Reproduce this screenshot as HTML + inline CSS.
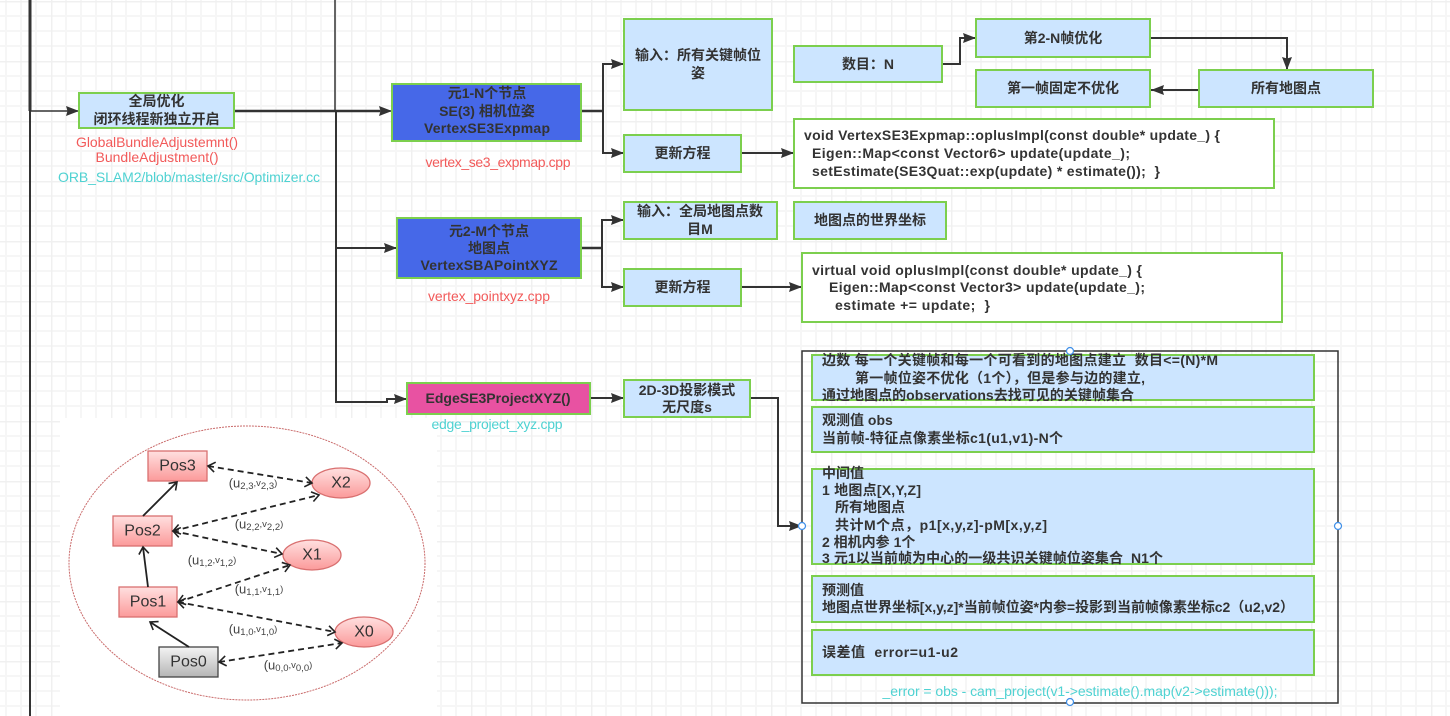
<!DOCTYPE html>
<html><head><meta charset="utf-8"><style>
html,body{margin:0;padding:0;background:#fff}
svg{display:block;filter:blur(0.3px)}
text{font-family:"Liberation Sans","Noto Sans CJK SC",sans-serif;font-size:14px;font-weight:700;fill:#333;dominant-baseline:central}
.c{text-anchor:middle}
.r{font-weight:400;fill:#f25a5a}
.t{font-weight:400;fill:#4fd2d2}
.b{fill:#cce5ff;stroke:#7ccf4e;stroke-width:2}
.w{fill:#fff;stroke:#7ccf4e;stroke-width:2}
.l{fill:none;stroke:#333;stroke-width:2}
.a{marker-end:url(#ar)}
.h{fill:#fff;stroke:#3f8fe8;stroke-width:1.2}
.p text{font-weight:400;font-size:16px;fill:#333}
.p .s{font-size:13px;fill:#444}
.p .s tspan{font-size:9.5px}
.d{fill:none;stroke:#222;stroke-width:1.8;stroke-dasharray:6 4;marker-start:url(#op2);marker-end:url(#op)}
.k{fill:none;stroke:#222;stroke-width:1.8;marker-end:url(#op)}
</style></head><body>
<svg xmlns="http://www.w3.org/2000/svg" width="1450" height="716" viewBox="0 0 1450 716">
<defs>
<pattern id="g" width="60" height="60" patternUnits="userSpaceOnUse" x="51" y="1">
<path d="M15 0V60M30 0V60M45 0V60M0 15H60M0 30H60M0 45H60" stroke="#f6f6f6" stroke-width="2" fill="none"/>
<path d="M0 0V60M0 0H60" stroke="#f0f0f0" stroke-width="3" fill="none"/>
</pattern>
<marker id="ar" markerUnits="userSpaceOnUse" markerWidth="14" markerHeight="10" refX="13" refY="5" orient="auto"><path d="M0 0L13 5L0 10L1.500 5Z" fill="#333"/></marker>
<marker id="op" markerUnits="userSpaceOnUse" markerWidth="12" markerHeight="12" refX="9" refY="6" orient="auto"><path d="M2 1L9 6L2 11" fill="none" stroke="#222" stroke-width="1.6"/></marker>
<marker id="op2" markerUnits="userSpaceOnUse" markerWidth="12" markerHeight="12" refX="3" refY="6" orient="auto"><path d="M10 1L3 6L10 11" fill="none" stroke="#222" stroke-width="1.6"/></marker>
<linearGradient id="pk" x1="0" y1="0" x2="0" y2="1"><stop offset="0" stop-color="#ffe0e0"/><stop offset="1" stop-color="#fb9a9a"/></linearGradient>
<linearGradient id="gy" x1="0" y1="0" x2="0" y2="1"><stop offset="0" stop-color="#f4f4f4"/><stop offset="1" stop-color="#b5b5b5"/></linearGradient>
</defs>
<rect width="1450" height="716" fill="#fff"/>
<rect width="1450" height="716" fill="url(#g)"/>

<!-- factor graph picture -->
<rect x="60" y="418" width="377" height="298" fill="#fff"/>
<g class="p">
<ellipse cx="247" cy="563" rx="178" ry="137" fill="none" stroke="#c96a6a" stroke-width="1" stroke-dasharray="2 1"/>
<rect x="148" y="451" width="59" height="30" fill="url(#pk)" stroke="#d97070" stroke-width="1.3"/>
<text class="c" x="177.500" y="466">Pos3</text>
<rect x="113" y="516" width="59" height="30" fill="url(#pk)" stroke="#d97070" stroke-width="1.3"/>
<text class="c" x="142.500" y="531">Pos2</text>
<rect x="119" y="587" width="58" height="30" fill="url(#pk)" stroke="#d97070" stroke-width="1.3"/>
<text class="c" x="148" y="602">Pos1</text>
<rect x="159" y="647" width="59" height="30" fill="url(#gy)" stroke="#444" stroke-width="1.3"/>
<text class="c" x="188.500" y="662">Pos0</text>
<ellipse cx="341" cy="483" rx="29" ry="15" fill="url(#pk)" stroke="#d97070" stroke-width="1.3"/>
<text class="c" x="341" y="483">X2</text>
<ellipse cx="312" cy="555" rx="29" ry="15" fill="url(#pk)" stroke="#d97070" stroke-width="1.3"/>
<text class="c" x="312" y="555">X1</text>
<ellipse cx="364" cy="632" rx="29" ry="15" fill="url(#pk)" stroke="#d97070" stroke-width="1.3"/>
<text class="c" x="364" y="632">X0</text>
<path class="k" d="M189 647L150 622"/>
<path class="k" d="M148 587L143 547"/>
<path class="k" d="M143 516L177 482"/>
<path class="d" d="M208 466L312 483"/>
<path class="d" d="M173 531L319 495"/>
<path class="d" d="M173 531L282 554"/>
<path class="d" d="M178 602L290 565"/>
<path class="d" d="M178 602L335 632"/>
<path class="d" d="M219 662L342 643"/>
<text class="c s" x="253" y="483">(u<tspan dy="3">2,3</tspan><tspan dy="-3">,v</tspan><tspan dy="3">2,3</tspan><tspan dy="-3">)</tspan></text>
<text class="c s" x="259" y="524">(u<tspan dy="3">2,2</tspan><tspan dy="-3">,v</tspan><tspan dy="3">2,2</tspan><tspan dy="-3">)</tspan></text>
<text class="c s" x="212" y="560">(u<tspan dy="3">1,2</tspan><tspan dy="-3">,v</tspan><tspan dy="3">1,2</tspan><tspan dy="-3">)</tspan></text>
<text class="c s" x="259" y="589">(u<tspan dy="3">1,1</tspan><tspan dy="-3">,v</tspan><tspan dy="3">1,1</tspan><tspan dy="-3">)</tspan></text>
<text class="c s" x="253" y="629">(u<tspan dy="3">1,0</tspan><tspan dy="-3">,v</tspan><tspan dy="3">1,0</tspan><tspan dy="-3">)</tspan></text>
<text class="c s" x="288" y="665">(u<tspan dy="3">0,0</tspan><tspan dy="-3">,v</tspan><tspan dy="3">0,0</tspan><tspan dy="-3">)</tspan></text>
</g>

<!-- connectors -->
<path class="l" d="M30 0V716" />
<path d="M30 0V111" stroke="#333" stroke-width="3" fill="none"/>
<path class="l a" d="M30 111H79" style="stroke-width:1.5"/>
<path d="M234 111H380" stroke="#333" stroke-width="2.5" fill="none"/>
<path class="l a" d="M336 111H392" style="stroke-width:1.5"/>
<path class="l" d="M335 0V111" style="stroke-width:1.5"/>
<path class="l" d="M336 111V402H387V399H395"/>
<path class="l a" d="M336 248H397"/>
<path class="l a" d="M395 399H407"/>
<path class="l" d="M581 111H603" style="stroke-width:2.5"/>
<path class="l a" d="M603 111V64H624"/>
<path class="l a" d="M603 111V153H624"/>
<path class="l" d="M581 248H602" style="stroke-width:2.5"/>
<path class="l a" d="M602 248V220H624"/>
<path class="l a" d="M602 248V287H624"/>
<path class="l a" d="M590 398H624"/>
<path class="l a" d="M750 398H778V526H802"/>
<path class="l a" d="M741 153H794"/>
<path class="l a" d="M741 287H802"/>
<path class="l a" d="M942 64H960V38H976"/>
<path class="l a" d="M1150 38H1287V70"/>
<path class="l a" d="M1199 90H1151"/>

<!-- top-level nodes -->
<rect class="b" x="79" y="93" width="155" height="35"/>
<text class="c" x="156.500" y="101">全局优化</text>
<text class="c" x="156.500" y="119">闭环线程新独立开启</text>
<text class="c r" x="157" y="142" textLength="162">GlobalBundleAdjustemnt()</text>
<text class="c r" x="157" y="157" textLength="123">BundleAdjustment()</text>
<text class="c t" x="189" y="177" textLength="262">ORB_SLAM2/blob/master/src/Optimizer.cc</text>

<rect x="392" y="84" width="189" height="57" fill="#4668e8" stroke="#7ccf4e" stroke-width="2"/>
<text class="c" x="487" y="93">元1-N个节点</text>
<text class="c" x="487" y="111">SE(3) 相机位姿</text>
<text class="c" x="487" y="128" textLength="126">VertexSE3Expmap</text>
<text class="c r" x="498" y="162" textLength="145">vertex_se3_expmap.cpp</text>

<rect class="b" x="624" y="19" width="148" height="91"/>
<text class="c" x="698" y="55">输入：所有关键帧位</text>
<text class="c" x="698" y="73">姿</text>
<rect class="b" x="794" y="46" width="148" height="36"/>
<text class="c" x="868" y="64">数目：N</text>
<rect class="b" x="976" y="19" width="174" height="38"/>
<text class="c" x="1063" y="38">第2-N帧优化</text>
<rect class="b" x="976" y="70" width="174" height="37"/>
<text class="c" x="1063" y="88">第一帧固定不优化</text>
<rect class="b" x="1199" y="70" width="174" height="37"/>
<text class="c" x="1286" y="88">所有地图点</text>

<rect class="b" x="624" y="135" width="117" height="37"/>
<text class="c" x="682.500" y="153">更新方程</text>
<rect class="w" x="794" y="119" width="480" height="69"/>
<text x="804" y="135" textLength="416">void VertexSE3Expmap::oplusImpl(const double* update_) {</text>
<text x="812" y="153" textLength="318">Eigen::Map&lt;const Vector6&gt; update(update_);</text>
<text x="812" y="171" textLength="348">setEstimate(SE3Quat::exp(update) * estimate());&#160; }</text>

<rect x="397" y="218" width="184" height="60" fill="#4668e8" stroke="#7ccf4e" stroke-width="2"/>
<text class="c" x="489" y="231">元2-M个节点</text>
<text class="c" x="489" y="248">地图点</text>
<text class="c" x="489" y="265" textLength="137">VertexSBAPointXYZ</text>
<text class="c r" x="489" y="296" textLength="122">vertex_pointxyz.cpp</text>

<rect class="b" x="624" y="202" width="153" height="37"/>
<text class="c" x="700" y="211">输入：全局地图点数</text>
<text class="c" x="700" y="229">目M</text>
<rect class="b" x="794" y="202" width="152" height="37"/>
<text class="c" x="870" y="220">地图点的世界坐标</text>
<rect class="b" x="624" y="269" width="117" height="37"/>
<text class="c" x="682.500" y="287">更新方程</text>
<rect class="w" x="802" y="253" width="480" height="69"/>
<text x="812" y="270" textLength="330">virtual void oplusImpl(const double* update_) {</text>
<text x="829" y="287" textLength="316">Eigen::Map&lt;const Vector3&gt; update(update_);</text>
<text x="835" y="305" textLength="155">estimate += update;&#160; }</text>

<rect x="407" y="383" width="183" height="31" fill="#e852a2" stroke="#7ccf4e" stroke-width="2"/>
<text class="c" x="498" y="398" textLength="145">EdgeSE3ProjectXYZ()</text>
<text class="c t" x="497" y="424" textLength="131">edge_project_xyz.cpp</text>
<rect class="b" x="624" y="380" width="126" height="37"/>
<text class="c" x="687" y="390">2D-3D投影模式</text>
<text class="c" x="687" y="407">无尺度s</text>

<!-- big container -->
<rect x="802" y="351" width="536" height="352" fill="none" stroke="#333" stroke-width="1.5"/>
<rect class="b" x="812" y="355" width="502" height="45"/>
<text x="822" y="360" textLength="396">边数 每一个关键帧和每一个可看到的地图点建立&#160; 数目&lt;=(N)*M</text>
<text x="855" y="378" textLength="290">第一帧位姿不优化（1个），但是参与边的建立,</text>
<text x="822" y="395" textLength="312">通过地图点的observations去找可见的关键帧集合</text>
<rect class="b" x="812" y="407" width="502" height="45"/>
<text x="822" y="420">观测值 obs</text>
<text x="822" y="438" textLength="241">当前帧-特征点像素坐标c1(u1,v1)-N个</text>
<rect class="b" x="812" y="469" width="502" height="95"/>
<text x="822" y="473">中间值</text>
<text x="822" y="490" textLength="99">1 地图点[X,Y,Z]</text>
<text x="835" y="507">所有地图点</text>
<text x="835" y="525" textLength="212">共计M个点，p1[x,y,z]-pM[x,y,z]</text>
<text x="822" y="542">2 相机内参 1个</text>
<text x="822" y="558" textLength="341">3 元1以当前帧为中心的一级共识关键帧位姿集合&#160; N1个</text>
<rect class="b" x="812" y="576" width="502" height="46"/>
<text x="822" y="590">预测值</text>
<text x="822" y="607" textLength="472">地图点世界坐标[x,y,z]*当前帧位姿*内参=投影到当前帧像素坐标c2（u2,v2）</text>
<rect class="b" x="812" y="630" width="502" height="45"/>
<text x="822" y="652" textLength="136">误差值&#160; error=u1-u2</text>
<text class="c t" x="1080" y="691" textLength="395">_error = obs - cam_project(v1-&gt;estimate().map(v2-&gt;estimate()));</text>
<circle class="h" cx="1070" cy="351" r="3.500"/>
<circle class="h" cx="802" cy="526" r="3.500"/>
<circle class="h" cx="1338" cy="526" r="3.500"/>
<circle class="h" cx="1070" cy="702" r="3.500"/>
</svg>
</body></html>
